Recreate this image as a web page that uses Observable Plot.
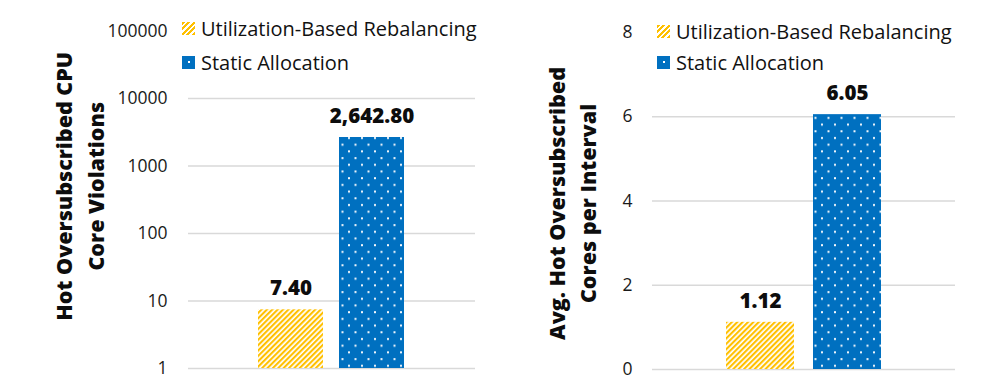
<!DOCTYPE html>
<html>
<head>
<meta charset="utf-8">
<script src="https://cdn.jsdelivr.net/npm/d3@7"></script>
<script src="https://cdn.jsdelivr.net/npm/@observablehq/plot@0.6"></script>
<style>
  html, body { margin: 0; padding: 0; background: #fff; }
  body { width: 998px; height: 392px; overflow: hidden; font-family: "Open Sans", sans-serif; }
  #wrap { display: flex; width: 998px; height: 392px; }
  .panel { position: relative; width: 499px; height: 392px; }
  .legend { position: absolute; font-size: 20px; color: #111; }
  .legend .row { display: flex; align-items: center; white-space: nowrap; }
  .legend .sw { width: 13px; height: 13px; margin-right: 6px; flex: none; }
  .sw.hatch { background: repeating-linear-gradient(135deg, #FFC000 0 2.2px, #fff 2.2px 3.9px); }
  .sw.dots { background-color: #0070C0; background-image: linear-gradient(#fff, #fff); background-size: 2px 2px; background-repeat: no-repeat; background-position: 6px 5px; }
</style>
</head>
<body>
<div id="wrap"></div>
<script>
// ---- data ----
const series = ["Utilization-Based Rebalancing", "Static Allocation"];
const violations = [7.40, 2642.80];
const violationLabels = ["7.40", "2,642.80"];
const avgCores = [1.12, 6.05];
const avgCoreLabels = ["1.12", "6.05"];
const leftTicks = [1, 10, 100, 1000, 10000, 100000];
const leftGrid = [1, 10, 100, 1000, 10000];
const rightTicks = [0, 2, 4, 6, 8];
const rightGrid = [0, 2, 4, 6];
const leftTitle = "Hot Oversubscribed CPU\nCore Violations";
const rightTitle = "Avg. Hot Oversubscribed\nCores per Interval";

const YELLOW = "#FFC000", BLUE = "#0070C0";

function patternDefs(prefix) {
  return () => {
    const ns = "http://www.w3.org/2000/svg";
    const g = document.createElementNS(ns, "g");
    g.innerHTML = `<defs>
      <pattern id="${prefix}-hatch" width="3.8" height="3.8" patternUnits="userSpaceOnUse" patternTransform="rotate(45)">
        <rect width="3.8" height="3.8" fill="#fff"/><rect width="2.1" height="3.8" fill="${YELLOW}"/>
      </pattern>
      <pattern id="${prefix}-dots" width="13" height="13.4" patternUnits="userSpaceOnUse">
        <rect width="13" height="13.4" fill="${BLUE}"/>
        <rect x="10" y="3" width="2" height="2" fill="#f4f8fc"/>
        <rect x="3.5" y="9.7" width="2" height="2" fill="#f4f8fc"/>
      </pattern></defs>`;
    return g;
  };
}

function makeChart(opts) {
  const data = series.map((s, i) => ({series: s, value: opts.values[i], label: opts.labels[i]}));
  return Plot.plot({
    width: 499,
    height: 392,
    marginLeft: opts.ml,
    marginRight: opts.mr,
    marginTop: opts.mt,
    marginBottom: opts.mb,
    style: {fontFamily: "Open Sans, sans-serif", background: "transparent", overflow: "visible"},
    x: {domain: series, axis: null, paddingInner: opts.pi, paddingOuter: opts.po},
    y: {
      type: opts.type, domain: opts.domain, ticks: opts.ticks, tickFormat: d => String(d),
      tickSize: 0, tickPadding: opts.tp, label: null
    },
    marks: [
      patternDefs(opts.id),
      Plot.ruleY(opts.grid, {stroke: "#d9d9d9", strokeWidth: 1.6}),
      Plot.barY(data.filter(d => d.series === series[0]), {x: "series", y1: opts.base, y2: "value", fill: `url(#${opts.id}-hatch)`}),
      Plot.barY(data.filter(d => d.series === series[1]), {x: "series", y1: opts.base, y2: "value", fill: `url(#${opts.id}-dots)`}),
      Plot.text(data, {x: "series", y: "value", text: "label", dy: -21, fontSize: 20.5, fontWeight: 800, fill: "#0d0d0d", lineAnchor: "middle"}),
      Plot.axisY({ticks: opts.ticks, tickFormat: d => String(d), tickSize: 0, tickPadding: opts.tp, fontSize: 17.5, color: "#1a1a1a", label: null}),
      Plot.text([opts.title], {frameAnchor: "left", text: d => d, rotate: -90, dx: opts.tdx, dy: opts.tdy, fontSize: 21.5, fontWeight: 800, fill: "#0d0d0d", lineHeight: 1.45, lineAnchor: "middle", textAnchor: "middle"})
    ]
  });
}

function legend(left, top, gap) {
  const el = document.createElement("div");
  el.className = "legend";
  el.style.left = left + "px";
  el.style.top = top + "px";
  el.innerHTML = `<div class="row" style="height:${gap}px"><span class="sw hatch"></span>${series[0]}</div>
    <div class="row" style="height:${gap}px"><span class="sw dots"></span>${series[1]}</div>`;
  return el;
}

const wrap = document.getElementById("wrap");

const p1 = document.createElement("div"); p1.className = "panel";
p1.appendChild(makeChart({
  id: "L", values: violations, labels: violationLabels, type: "log", domain: [1, 100000],
  ticks: leftTicks, grid: leftGrid, base: 1, ml: 188, mr: 24, mt: 30.5, mb: 24,
  pi: 0.195, po: 0.848, tp: 21, title: leftTitle, tdx: -110.5, tdy: -13.5
}));
p1.appendChild(legend(182, 11, 34));
wrap.appendChild(p1);

const p2 = document.createElement("div"); p2.className = "panel";
p2.appendChild(makeChart({
  id: "R", values: avgCores, labels: avgCoreLabels, type: "linear", domain: [0, 8],
  ticks: rightTicks, grid: rightGrid, base: 0, ml: 153, mr: 43, mt: 32, mb: 23,
  pi: 0.218, po: 0.85, tp: 20, title: rightTitle, tdx: -82, tdy: 2.5
}));
p2.appendChild(legend(158, 16, 31));
wrap.appendChild(p2);
</script>
</body>
</html>
